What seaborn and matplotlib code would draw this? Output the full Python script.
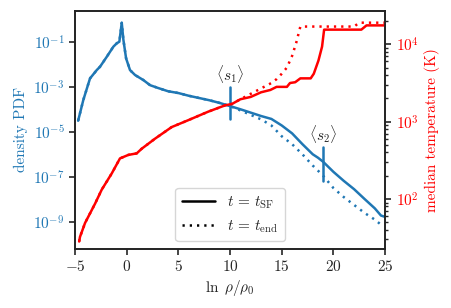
import numpy as np
import pandas as pd
import matplotlib
matplotlib.use("Agg")
import matplotlib.pyplot as plt
import matplotlib.ticker as mticker
import seaborn as sns

# data (x = ln rho/rho0, values as log10)
s_pdf = [-4.7, -4.2, -3.55, -2.9, -2.58, -1.93, -1.29, -0.96, -0.71, -0.48, -0.32, -0.06,
         0.32, 0.81, 1.6, 2.26, 3.0, 4.0, 5.0, 6.0, 7.0, 8.0, 9.0, 10.0]
logpdf_common = [-4.51, -3.59, -2.63, -2.26, -2.11, -1.67, -1.22, -1.07, -1.0, -0.16, -0.92, -1.74,
                 -2.26, -2.48, -2.7, -2.93, -3.05, -3.2, -3.28, -3.4, -3.5, -3.6, -3.72, -3.86]

s_pdf_sf_tail = [11, 12, 13, 14, 15, 16, 17, 18, 18.5, 19, 20, 21, 22, 23, 24, 24.6, 25]
logpdf_sf_tail = [-4.0, -4.15, -4.3, -4.43, -4.72, -5.07, -5.55, -6.0, -6.15, -6.33, -6.78,
                  -7.18, -7.55, -7.98, -8.4, -8.72, -8.78]

s_pdf_end_tail = [11, 12, 13, 14, 15, 16, 17, 18, 19, 20, 21, 22, 23, 24, 24.8]
logpdf_end_tail = [-4.05, -4.25, -4.45, -4.72, -5.2, -5.55, -6.0, -6.5, -6.95, -7.5, -7.9,
                   -8.25, -8.6, -8.9, -9.2]

s_temp = [-4.6, -4.52, -4.03, -3.06, -2.42, -1.45, -0.65, 0.16, 0.97, 1.45, 2.74, 4.35, 5.97,
          7.9, 9.5, 10.2, 11.0]
logT_common = [1.45, 1.51, 1.69, 1.94, 2.12, 2.33, 2.525, 2.57, 2.59, 2.65, 2.78, 2.93, 3.02,
               3.13, 3.21, 3.23, 3.29]

s_temp_sf_tail = [12, 13, 13.9, 14.5, 15.5, 15.8, 16.3, 16.8, 17.8, 18.1, 18.55, 18.9, 19.1,
                  22.7, 23.2, 25]
logT_sf_tail = [3.32, 3.38, 3.41, 3.45, 3.45, 3.5, 3.51, 3.56, 3.56, 3.62, 3.79, 3.97, 4.19,
                4.19, 4.245, 4.245]

s_temp_end_tail = [12, 13, 14, 14.5, 15, 15.5, 16, 16.4, 16.8, 22.0, 22.5, 25]
logT_end_tail = [3.36, 3.43, 3.5, 3.55, 3.62, 3.7, 3.85, 4.02, 4.23, 4.23, 4.28, 4.28]

# characteristic densities
s_marks = [10.0, 19.0]
mark_labels = [r"$\langle s_1\rangle$", r"$\langle s_2\rangle$"]
mark_lo = [-4.45, -7.2]
mark_hi = [-3.0, -5.68]

pdf_sf = pd.DataFrame({"s": s_pdf + s_pdf_sf_tail,
                       "pdf": 10 ** np.array(logpdf_common + logpdf_sf_tail)})
pdf_end = pd.DataFrame({"s": s_pdf + s_pdf_end_tail,
                        "pdf": 10 ** np.array(logpdf_common + logpdf_end_tail)})
temp_sf = pd.DataFrame({"s": s_temp + s_temp_sf_tail,
                        "T": 10 ** np.array(logT_common + logT_sf_tail)})
temp_end = pd.DataFrame({"s": s_temp + s_temp_end_tail,
                         "T": 10 ** np.array(logT_common + logT_end_tail)})

sns.set_theme(style="ticks", context="notebook")
plt.rcParams["font.family"] = "serif"
plt.rcParams["font.serif"] = ["cmr10", "DejaVu Serif"]
plt.rcParams["mathtext.fontset"] = "cm"
plt.rcParams["axes.formatter.use_mathtext"] = True
plt.rcParams["axes.unicode_minus"] = True

blue = "#1f77b4"
red = "red"
fs = 11
dotted = (0, (0.9, 2.0))

fig = plt.figure(figsize=(4.52, 3.08), dpi=100)
ax = fig.add_axes([0.166, 0.192, 0.686, 0.772])
ax2 = ax.twinx()

sns.lineplot(data=pdf_sf, x="s", y="pdf", ax=ax, color=blue, lw=1.8, sort=False)
sns.lineplot(data=pdf_end, x="s", y="pdf", ax=ax, color=blue, lw=1.8, linestyle=dotted, sort=False)
for s, lo, hi, lab in zip(s_marks, mark_lo, mark_hi, mark_labels):
    ax.plot([s, s], [10 ** lo, 10 ** hi], color=blue, lw=1.8)
    ax.text(s, 10 ** (hi + 0.08), lab, ha="center", va="bottom", fontsize=fs)

sns.lineplot(data=temp_sf, x="s", y="T", ax=ax2, color=red, lw=1.8, sort=False)
sns.lineplot(data=temp_end, x="s", y="T", ax=ax2, color=red, lw=1.8, linestyle=dotted, sort=False)

ax.set_yscale("log")
ax2.set_yscale("log")
ax.set_xlim(-5, 25)
ax.set_ylim(10 ** -10.2, 10 ** 0.36)
ax2.set_ylim(10 ** 1.355, 10 ** 4.43)

ax.yaxis.set_major_locator(mticker.FixedLocator([1e-9, 1e-7, 1e-5, 1e-3, 1e-1]))
ax.yaxis.set_minor_locator(mticker.NullLocator())
ax.set_xticks([-5, 0, 5, 10, 15, 20, 25])

ax.set_xlabel(r"$\ln\ \rho/\rho_0$", fontsize=fs, labelpad=3)
ax.set_ylabel("density PDF", color=blue, fontsize=fs)
ax2.set_ylabel("median temperature (K)", color=red, fontsize=fs)

ax.tick_params(axis="x", labelsize=fs, length=4, width=1.2)
ax.tick_params(axis="y", labelsize=fs, labelcolor=blue, length=4, width=1.2)
ax2.tick_params(axis="y", which="major", labelsize=fs, labelcolor=red, length=4, width=1.2)
ax2.tick_params(axis="y", which="minor", length=2.2, width=1.0)

for a in (ax, ax2):
    for sp in a.spines.values():
        sp.set_linewidth(1.2)
        sp.set_color("#222222")

ax2.plot([], [], color="black", lw=1.8, label=r"$t\, =\, t_{\rm SF}$")
ax2.plot([], [], color="black", lw=1.8, linestyle=dotted, label=r"$t\, =\, t_{\rm end}$")
ax2.legend(loc="lower center", fontsize=fs, frameon=True, handlelength=2.2)

fig.savefig("out.png", dpi=100)
